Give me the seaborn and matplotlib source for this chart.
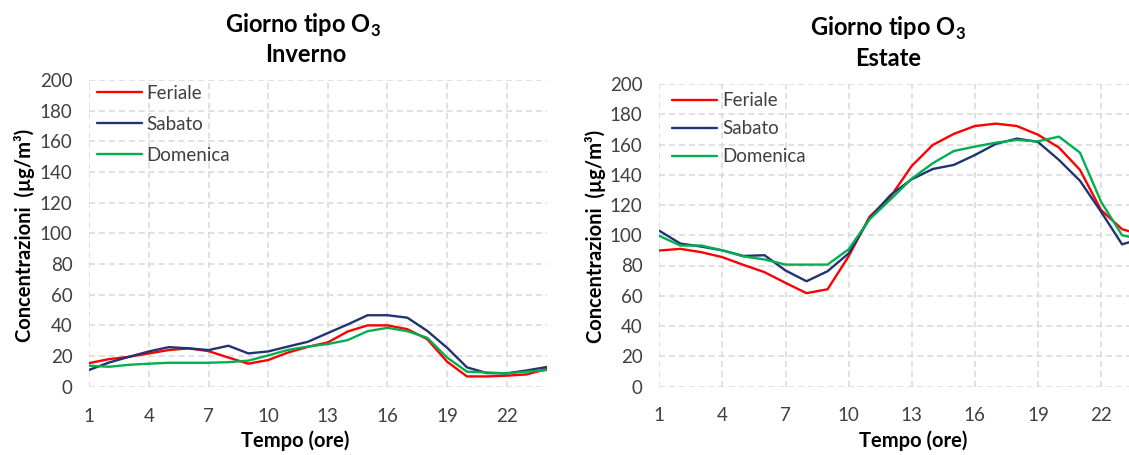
import pandas as pd
import matplotlib.pyplot as plt
import seaborn as sns

sns.set_style("white")
plt.rcParams["font.family"] = ["Lato", "DejaVu Sans"]
plt.rcParams["mathtext.fontset"] = "custom"
plt.rcParams["mathtext.rm"] = "Lato"
plt.rcParams["mathtext.bf"] = "Lato:bold"

hours = list(range(1, 25))
series_names = ["Feriale", "Sabato", "Domenica"]
colors = {"Feriale": "#FF0000", "Sabato": "#1F3470", "Domenica": "#00B050"}

# inverno
inv_feriale = [15.4, 18, 19.5, 21.7, 23.9, 25, 23.2, 19, 15, 17.4, 22.3, 26,
               28.9, 36, 40, 40, 37.5, 31, 16.3, 6.7, 6.7, 7.2, 8, 11.5]
inv_sabato = [11, 15.8, 19.5, 23, 25.8, 25, 23.9, 26.7, 21.7, 23, 26.2, 29.3,
              35, 40.6, 46.6, 46.6, 45, 36.4, 25.4, 12.6, 8.9, 8.7, 10.6, 12.8]
inv_domenica = [13.7, 13, 14.3, 15, 15.6, 15.6, 15.6, 16, 17, 20.4, 24, 26.2,
                27.8, 30.4, 36.2, 38.4, 36.2, 31.9, 19, 9.8, 9.3, 8.7, 9.8, 10.8]

# estate
est_feriale = [89.9, 91, 88.8, 85.5, 80.4, 75.6, 68.5, 61.7, 64.3, 86, 112.3, 125.6,
               145.8, 159.7, 167, 172.2, 173.8, 172.2, 166.5, 158, 143.2, 116.7, 104, 100]
est_sabato = [103, 94.5, 92.5, 90, 86.3, 86.8, 76.7, 69.6, 76.2, 88, 111.2, 126.7,
              137, 143.8, 146.5, 153, 160.4, 163.9, 161.7, 149.8, 136, 115.6, 94, 98]
est_domenica = [99.6, 93.2, 93.2, 90, 86, 84, 80.6, 80.6, 80.6, 90.7, 110.6, 123.8,
                137.4, 147.6, 155.7, 158.6, 161.2, 163, 162.1, 165.2, 154.6, 122.2, 100, 97]


def make_df(fer, sab, dom):
    rows = []
    for name, vals in zip(series_names, [fer, sab, dom]):
        for h, v in zip(hours, vals):
            rows.append({"ora": h, "conc": v, "giorno": name})
    return pd.DataFrame(rows)


W, H = 1129, 455
fig = plt.figure(figsize=(W / 100, H / 100), dpi=100)

ax1 = fig.add_axes([89.3 / W, 68.3 / H, 457.2 / W, 306.7 / H])
ax2 = fig.add_axes([659.3 / W, 68.5 / H, (W - 659.3) / W, 302.5 / H])

panels = [
    (ax1, make_df(inv_feriale, inv_sabato, inv_domenica), 24, (0.016, 0.985), 0.75),
    (ax2, make_df(est_feriale, est_sabato, est_domenica), 23.33, (0.028, 0.972), 0.58),
]

for ax, df, xmax, anchor, lspace in panels:
    sns.lineplot(data=df, x="ora", y="conc", hue="giorno", palette=colors,
                 linewidth=1.7, ax=ax)
    ax.set_xlim(1, xmax)
    ax.set_ylim(0, 200)
    ax.set_xticks(range(1, 23, 3))
    ax.set_yticks(range(0, 201, 20))
    ax.grid(True, color="#D9D9D9", linestyle=(0, (4, 2.5)), linewidth=1.1)
    ax.set_axisbelow(True)
    for s in ax.spines.values():
        s.set_visible(False)
    ax.tick_params(axis="both", length=0, labelsize=13.5, colors="#404040")
    ax.tick_params(axis="y", pad=12)
    ax.tick_params(axis="x", pad=15)
    ax.set_xlabel("")
    ax.set_ylabel("")
    leg = ax.legend(loc="upper left", bbox_to_anchor=anchor, frameon=False,
                    fontsize=13.5, handlelength=2.4, handletextpad=0.25,
                    labelspacing=lspace, borderpad=0, borderaxespad=0)
    for t in leg.get_texts():
        t.set_color("#404040")
    for l in leg.get_lines():
        l.set_linewidth(1.7)

bold = dict(fontweight="bold", color="#000000", ha="center", va="center")
fig.text(303 / W, 1 - 25 / H, r"Giorno tipo O$_\mathbf{3}$", fontsize=17, **bold)
fig.text(306 / W, 1 - 55 / H, "Inverno", fontsize=17, **bold)
fig.text(888 / W, 1 - 28 / H, r"Giorno tipo O$_\mathbf{3}$", fontsize=17, **bold)
fig.text(888 / W, 1 - 58 / H, "Estate", fontsize=17, **bold)

fig.text(295 / W, 1 - 441 / H, "Tempo (ore)", fontsize=14.5, **bold)
fig.text(913 / W, 1 - 441 / H, "Tempo (ore)", fontsize=14.5, **bold)

fig.text(25 / W, 1 - 235 / H, "Concentrazioni  (µg/m³)", fontsize=14.5,
         rotation=90, **bold)
fig.text(595 / W, 1 - 236 / H, "Concentrazioni  (µg/m³)", fontsize=14.5,
         rotation=90, **bold)

fig.savefig("out.png", dpi=100)
